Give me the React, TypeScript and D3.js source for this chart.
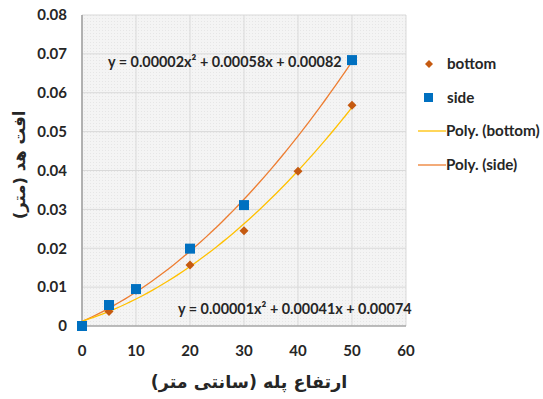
import React from "react";
import * as d3 from "d3";

const bottomX = [0, 5, 10, 20, 30, 40, 50];
const bottomY = [0, 0.0037, 0.0092, 0.0157, 0.0245, 0.0398, 0.0568];
const sideX = [0, 5, 10, 20, 30, 50];
const sideY = [0, 0.0054, 0.0095, 0.0199, 0.0311, 0.0684];
const xTicks = [0, 10, 20, 30, 40, 50, 60];
const yTicks = [0, 0.01, 0.02, 0.03, 0.04, 0.05, 0.06, 0.07, 0.08];
const eqSide = "y = 0.00002x² + 0.00058x + 0.00082";
const eqBottom = "y = 0.00001x² + 0.00041x + 0.00074";
const legendLabels = ["bottom", "side", "Poly. (bottom)", "Poly. (side)"];
const xTitle = "ارتفاع پله (سانتی متر)";
const yTitle = "افت هد (متر)";

function fitQuad(xs: number[], ys: number[]): [number, number, number] {
  // least squares y = a + b x + c x^2
  const S = (p: number) => d3.sum(xs, (x) => Math.pow(x, p));
  const T = (p: number) => d3.sum(xs, (x, i) => Math.pow(x, p) * ys[i]);
  const M = [
    [S(0), S(1), S(2), T(0)],
    [S(1), S(2), S(3), T(1)],
    [S(2), S(3), S(4), T(2)],
  ];
  for (let i = 0; i < 3; i++) {
    for (let k = i + 1; k < 3; k++) {
      const f = M[k][i] / M[i][i];
      for (let j = i; j < 4; j++) M[k][j] -= f * M[i][j];
    }
  }
  const r = [0, 0, 0];
  for (let i = 2; i >= 0; i--) {
    let s = M[i][3];
    for (let j = i + 1; j < 3; j++) s -= M[i][j] * r[j];
    r[i] = s / M[i][i];
  }
  return [r[0], r[1], r[2]];
}

export default function App() {
  const W = 543, H = 399;
  const L = 82, R = 406, T = 15, B = 326;
  const x = d3.scaleLinear().domain([0, 60]).range([L, R]);
  const y = d3.scaleLinear().domain([0, 0.08]).range([B, T]);
  const font = "Lato, 'DejaVu Sans', sans-serif";
  const tc = "#262626";

  const mkCurve = (xs: number[], ys: number[]) => {
    const [a, b, c] = fitQuad(xs, ys);
    const pts = d3.range(0, 50.01, 1).map((v) => [v, a + b * v + c * v * v] as [number, number]);
    return d3.line<[number, number]>().x((d) => x(d[0])).y((d) => y(d[1])).curve(d3.curveMonotoneX)(pts) || "";
  };
  const bottomPath = mkCurve(bottomX, bottomY);
  const sidePath = mkCurve(sideX, sideY);

  const diamond = (cx: number, cy: number, r: number) =>
    `M${cx},${cy - r}L${cx + r},${cy}L${cx},${cy + r}L${cx - r},${cy}Z`;

  return (
    <svg width={W} height={H} style={{ position: "absolute", left: 0, top: 0 }}>
      <defs>
        <pattern id="dots" width="3" height="3" patternUnits="userSpaceOnUse">
          <rect width="3" height="3" fill="#f4f4f4" />
          <rect width="1" height="1" fill="#e6e6e6" />
        </pattern>
      </defs>
      <rect width={W} height={H} fill="#fff" />
      <rect x={L} y={T} width={R - L} height={B - T} fill="url(#dots)" />
      {xTicks.map((t) => (
        <line key={"gx" + t} x1={x(t)} x2={x(t)} y1={T} y2={B} stroke="#d9d9d9" strokeWidth={1} />
      ))}
      {yTicks.map((t) => (
        <line key={"gy" + t} x1={L} x2={R} y1={y(t)} y2={y(t)} stroke="#d9d9d9" strokeWidth={1} />
      ))}
      <line x1={L} x2={L} y1={T} y2={B} stroke="#8c8c8c" strokeWidth={1.2} />
      <line x1={L} x2={R} y1={B} y2={B} stroke="#8c8c8c" strokeWidth={1.2} />
      {yTicks.map((t) => (
        <text key={"ty" + t} x={67} y={y(t)} dy="0.35em" textAnchor="end" fontFamily={font} fontWeight={700} fontSize={15} fill={tc}>
          {t === 0 ? "0" : t.toFixed(2)}
        </text>
      ))}
      {xTicks.map((t) => (
        <text key={"tx" + t} x={x(t)} y={351} dy="0.35em" textAnchor="middle" fontFamily={font} fontWeight={700} fontSize={15} fill={tc}>
          {t}
        </text>
      ))}
      <path d={sidePath} fill="none" stroke="#ed7d31" strokeWidth={1.3} />
      <path d={bottomPath} fill="none" stroke="#ffc000" strokeWidth={1.3} />
      {bottomX.map((v, i) => (
        <path key={"b" + i} d={diamond(x(v), y(bottomY[i]), 4.5)} fill="#c55a11" />
      ))}
      {sideX.map((v, i) => (
        <rect key={"s" + i} x={x(v) - 5} y={y(sideY[i]) - 5} width={10} height={10} fill="#0070c0" />
      ))}
      <text x={108} y={62} dy="0.35em" fontFamily={font} fontWeight={700} fontSize={14.4} fill={tc}>{eqSide}</text>
      <text x={178} y={309} dy="0.35em" fontFamily={font} fontWeight={700} fontSize={14.4} fill={tc}>{eqBottom}</text>
      {/* legend */}
      <path d={diamond(429, 64, 4)} fill="#c55a11" />
      <rect x={424} y={93} width={9} height={9} fill="#0070c0" />
      <line x1={418} x2={446} y1={131} y2={131} stroke="#ffc000" strokeWidth={1.3} />
      <line x1={418} x2={446} y1={165} y2={165} stroke="#ed7d31" strokeWidth={1.3} />
      {legendLabels.map((s, i) => (
        <text key={s} x={i < 2 ? 447 : 446} y={[64, 98, 131, 165][i]} dy="0.35em" fontFamily={font} fontWeight={700} fontSize={15.2} fill={tc}>
          {s}
        </text>
      ))}
      <text x={249} y={382} dy="0.35em" textAnchor="middle" fontFamily="'DejaVu Sans', sans-serif" fontWeight={700} fontSize={17.5} fill={tc} direction="rtl">
        {xTitle}
      </text>
      <text transform={`translate(19,165) rotate(-90)`} dy="0.35em" textAnchor="middle" fontFamily="'DejaVu Sans', sans-serif" fontWeight={700} fontSize={16.5} fill={tc} direction="rtl">
        {yTitle}
      </text>
    </svg>
  );
}
